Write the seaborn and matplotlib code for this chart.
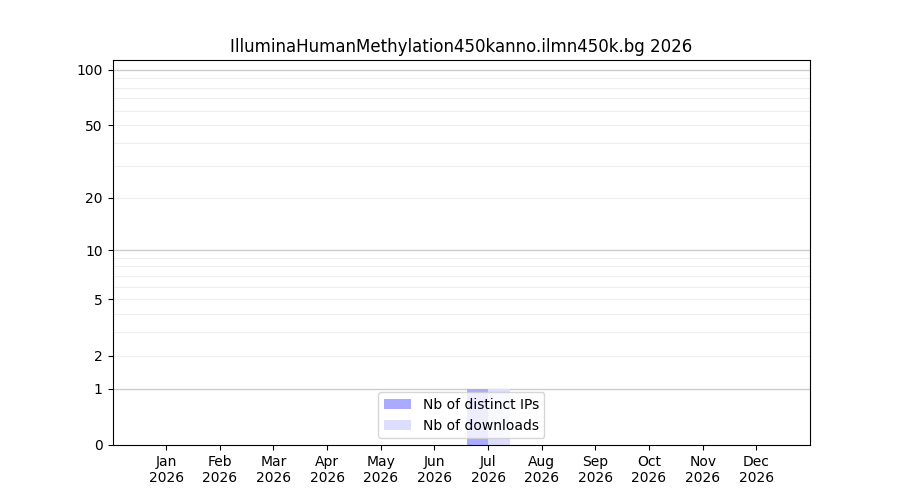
import numpy as np
import pandas as pd
import matplotlib
matplotlib.use("Agg")
import matplotlib.pyplot as plt
import seaborn as sns

title = "IlluminaHumanMethylation450kanno.ilmn450k.bg 2026"
months = ["Jan", "Feb", "Mar", "Apr", "May", "Jun",
          "Jul", "Aug", "Sep", "Oct", "Nov", "Dec"]
year = "2026"
distinct_ips = [0, 0, 0, 0, 0, 0, 1, 0, 0, 0, 0, 0]
downloads = [0, 0, 0, 0, 0, 0, 1, 0, 0, 0, 0, 0]
series_names = ["Nb of distinct IPs", "Nb of downloads"]
y_ticks = [0, 1, 2, 5, 10, 20, 50, 100]
major_grid = [1, 10, 100]
minor_grid = [2, 3, 4, 5, 6, 7, 8, 9, 20, 30, 40, 50, 60, 70, 80, 90]

df = pd.DataFrame({
    "month": months * 2,
    "count": distinct_ips + downloads,
    "series": [series_names[0]] * 12 + [series_names[1]] * 12,
})

fig, ax = plt.subplots(figsize=(9, 5), dpi=100)

sns.barplot(data=df, x="month", y="count", hue="series", hue_order=series_names,
            palette=["#aaaaff", "#ddddff"], saturation=1, errorbar=None,
            width=0.8, ax=ax, zorder=2)


def fwd(y):
    return np.log10(1 + np.clip(y, 0, None))


def inv(y):
    return 10 ** y - 1


ax.set_yscale("function", functions=(fwd, inv))
ax.set_ylim(0, 113)
ax.set_xlim(-1, 12)

ax.set_yticks(y_ticks)
ax.set_yticklabels([str(t) for t in y_ticks])
ax.yaxis.set_minor_locator(matplotlib.ticker.NullLocator())
ax.set_xticks(range(12))
ax.set_xticklabels([f"{m}\n{year}" for m in months])

for v in minor_grid:
    ax.axhline(v, color="#eeeeee", linewidth=0.8, zorder=0)
for v in major_grid:
    ax.axhline(v, color="#cccccc", linewidth=1, zorder=0)

ax.set_xlabel("")
ax.set_ylabel("")
ax.set_title(title, fontsize=12)

handles, labels = ax.get_legend_handles_labels()
ax.legend(handles, labels, loc="lower center")

plt.savefig("out.png", dpi=100)
